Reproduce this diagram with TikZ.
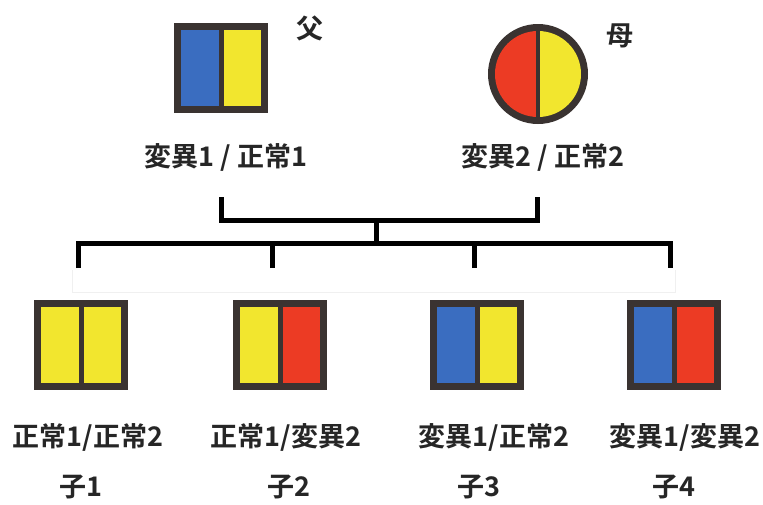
\documentclass[tikz,border=0pt]{standalone}
\usepackage{fontspec}
\newfontfamily\cjk{Noto Sans CJK JP}[BoldFont={* Bold}]
\definecolor{bblue}{HTML}{3A6DC0}
\definecolor{byellow}{HTML}{F2E62E}
\definecolor{bred}{HTML}{EC3B24}
\definecolor{bdark}{HTML}{3A3331}
\tikzset{
  lbl/.style={inner sep=0pt, font=\cjk\bfseries\fontsize{27}{30}\selectfont, text=black!85},
  kid/.style={lbl, font=\cjk\bfseries\fontsize{27}{30}\selectfont},
  bar/.style={line width=5pt, black},
  pbox/.style={fill=bdark, inner sep=0pt, minimum width=94pt, minimum height=90pt},
}
\newcommand{\genebox}[4]{%
  \node[pbox] (#1) at (#2) {};
  \fill[#3] ([shift={(7pt,-7pt)}]#1.north west) rectangle ([shift={(-2.5pt,7pt)}]#1.south);
  \fill[#4] ([shift={(2.5pt,-7pt)}]#1.north) rectangle ([shift={(-7pt,7pt)}]#1.south east);
}
\begin{document}
\begin{tikzpicture}[x=1pt,y=-1pt]
\useasboundingbox (0,0) rectangle (763,504);
\fill[white] (0,0) rectangle (763,504);
% father
\genebox{fa}{221,68}{bblue}{byellow}
\node[lbl] (fat) at (310,28) {父};
\node[lbl] (fal) at (226,157) {変異1 / 正常1};
% mother
\node[circle, fill=bdark, inner sep=0pt, minimum size=100pt] (mo) at (538,74) {};
\begin{scope}
  \clip (538,74) circle (43pt);
  \fill[bred] (490,20) rectangle (536,130);
  \fill[byellow] (540,20) rectangle (590,130);
\end{scope}
\node[lbl] (mot) at (620,36) {母};
\node[lbl] (mol) at (543,157) {変異2 / 正常2};
% connectors
\coordinate (fb) at (221,197);
\coordinate (mb) at (537,197);
\coordinate (j) at (376,220);
\coordinate (j2) at (376,243);
\coordinate (d1) at (78,268);
\coordinate (d2) at (272,268);
\coordinate (d3) at (474,268);
\coordinate (d4) at (670,268);
\draw[bar] (fb) -- (fb|-j) -- (mb|-j) -- (mb);
\draw[bar] (j) -- (j2);
\draw[bar] (d1) -- (d1|-j2) -- (d4|-j2) -- (d4);
\draw[bar] (d2) -- (d2|-j2);
\draw[bar] (d3) -- (d3|-j2);
\draw[black!6, line width=1pt] (72,270) -- (72,292) -- (675,292) -- (675,270);
% children
\genebox{c1}{81,345}{byellow}{byellow}
\genebox{c2}{280,345}{byellow}{bred}
\genebox{c3}{477,345}{bblue}{byellow}
\genebox{c4}{674,345}{bblue}{bred}
\node[lbl] (l1) at (88,437) {正常1/正常2};
\node[lbl] (l2) at (286,437) {正常1/変異2};
\node[lbl] (l3) at (494,437) {変異1/正常2};
\node[lbl] (l4) at (685,437) {変異1/変異2};
\node[kid] (k1) at (81,487) {子1};
\node[kid] (k2) at (289,487) {子2};
\node[kid] (k3) at (479,487) {子3};
\node[kid] (k4) at (674,487) {子4};
\end{tikzpicture}
\end{document}
